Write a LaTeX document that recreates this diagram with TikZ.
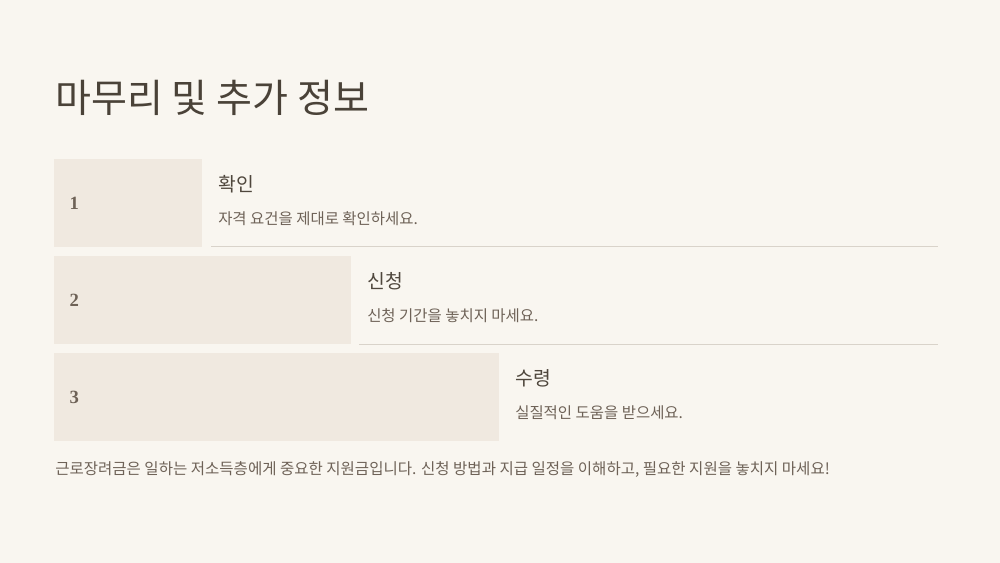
\documentclass[tikz,border=0pt]{standalone}
\usepackage{fontspec}
\setmainfont{Noto Sans CJK KR}
\newfontfamily\numfont{Liberation Serif}
\usetikzlibrary{positioning}
\definecolor{bgcol}{HTML}{F9F6F0}
\definecolor{boxcol}{HTML}{F0E9E0}
\definecolor{titlecol}{HTML}{4A4238}
\definecolor{textcol}{HTML}{6E6257}
\definecolor{rulecol}{HTML}{D9D3CA}
\tikzset{
  stepnum/.style={anchor=west,font=\numfont\bfseries\fontsize{14}{16}\selectfont,text=textcol},
  stephead/.style={anchor=west,inner sep=0pt,font=\fontsize{14.5}{17}\selectfont,text=titlecol!85!textcol},
  stepsub/.style={anchor=west,inner sep=0pt,font=\fontsize{11.6}{14}\selectfont,text=textcol}
}
\begin{document}
\begin{tikzpicture}[x=0.75pt,y=-0.75pt]
  \fill[bgcol] (0,0) rectangle (1000,563);
  \useasboundingbox (0,0) rectangle (1000,563);
  % title
  \node[anchor=west,inner sep=0pt,font=\fontsize{29.3}{34}\selectfont,text=titlecol] (title) at (55,98) {마무리 및 추가 정보};
  % steps
  \foreach \i/\w/\head/\sub in {
      1/202/확인/자격 요건을 제대로 확인하세요.,
      2/351/신청/신청 기간을 놓치지 마세요.,
      3/499/수령/실질적인 도움을 받으세요.}
  {
    \pgfmathsetmacro{\top}{159+97*(\i-1)}
    \fill[boxcol] (54,\top) rectangle (\w,\top+88);
    \node[stepnum] (num\i) at (65,\top+44) {\i};
    \node[stephead] (head\i) at (\w+16,\top+25) {\head};
    \node[stepsub] (sub\i) at (\w+16,\top+60) {\sub};
  }
  % rules under first two steps
  \coordinate (rule1a) at (211,247);
  \coordinate (rule1b) at (938,247);
  \coordinate (rule2a) at (359,344);
  \coordinate (rule2b) at (938,344);
  \draw[rulecol,line width=0.75pt] (rule1a) -- (rule1b);
  \draw[rulecol,line width=0.75pt] (rule2a) -- (rule2b);
  % closing note
  \node[stepsub,font=\fontsize{11.65}{14}\selectfont] (note) at (55,470) {근로장려금은 일하는 저소득층에게 중요한 지원금입니다. 신청 방법과 지급 일정을 이해하고, 필요한 지원을 놓치지 마세요!};
\end{tikzpicture}
\end{document}
